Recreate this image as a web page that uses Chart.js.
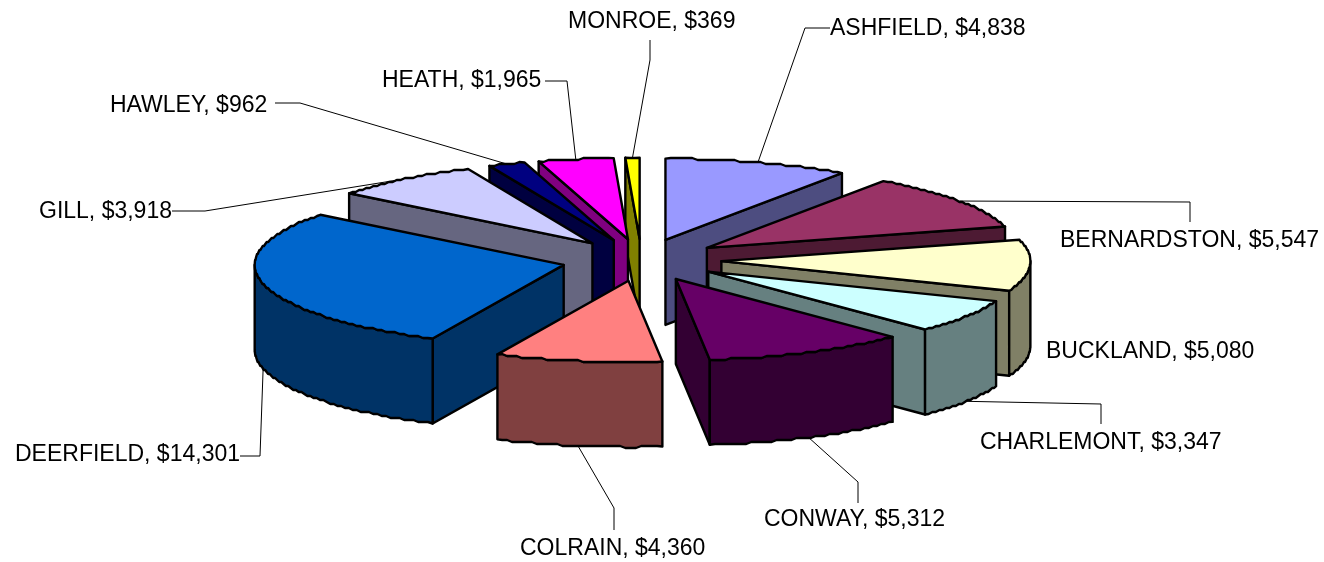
<!DOCTYPE html>
<html>
<head>
<meta charset="utf-8">
<title>Pie</title>
<script src="https://cdn.jsdelivr.net/npm/chart.js@4/dist/chart.umd.min.js"></script>
<style>
  html, body { margin: 0; padding: 0; background: #fff; }
  canvas { display: block; }
</style>
</head>
<body>
<canvas id="towns" width="1324" height="562"></canvas>
<script>
const towns = ["ASHFIELD", "BERNARDSTON", "BUCKLAND", "CHARLEMONT", "CONWAY", "COLRAIN", "DEERFIELD", "GILL", "HAWLEY", "HEATH", "MONROE"];
const amounts = [4838, 5547, 5080, 3347, 5312, 4360, 14301, 3918, 962, 1965, 369];
const topColors = ["#9999FF", "#993366", "#FFFFCC", "#CCFFFF", "#660066", "#FF8080", "#0066CC", "#CCCCFF", "#000080", "#FF00FF", "#FFFF00"];
const sideColors = ["#4D4D80", "#4D1A33", "#808066", "#668080", "#330033", "#804040", "#003366", "#666680", "#000040", "#800080", "#808000"];

// label text position, then the leader from text to elbow (slice end is worked out below)
const labelPos = [[830, 29], [1060, 241], [1046, 352], [980, 443], [764, 520], [520, 549], [15, 455], [39, 212], [110, 106], [382, 81], [568, 22]];
const leaderPts = [
  [[830, 28], [805, 28]],
  [[1190, 222], [1190, 202]],
  null,
  [[1101, 424], [1101, 404]],
  [[858, 503], [858, 482]],
  [[614, 530], [614, 508]],
  [[240, 456], [260, 456]],
  [[172, 211], [205, 211]],
  [[275, 103], [300, 103]],
  [[545, 81], [567, 81]],
  [[650, 40], [650, 60]]
];

const tilt = 0.263;   // vertical squash of the pie
const depth = 85;     // height of the side walls
const rimStep = 2;    // the original's rim is slightly stepped, not a clean curve

function sliceGeom(arc) {
  const p = arc.getProps(["x", "y", "startAngle", "endAngle", "outerRadius"], true);
  const mid = (p.startAngle + p.endAngle) / 2;
  const off = arc.options.offset;
  return {
    cx: p.x + Math.cos(mid) * off,
    cy: p.y + Math.sin(mid) * off * tilt,
    r: p.outerRadius,
    start: p.startAngle,
    end: p.endAngle,
    mid: mid
  };
}

function rimPt(g, a) {
  return [g.cx + Math.cos(a) * g.r, g.cy + Math.sin(a) * g.r * tilt];
}

// lineTo along the rim from angle a0 to a1, inner points snapped to a coarse grid
function traceRim(ctx, g, a0, a1, dy) {
  const n = Math.max(1, Math.ceil(Math.abs(a1 - a0) / (Math.PI / 180)));
  for (let k = 0; k <= n; k++) {
    const p = rimPt(g, a0 + (a1 - a0) * k / n);
    let y = p[1] + dy;
    if (k > 0 && k < n) y = Math.round(y / rimStep) * rimStep;
    ctx.lineTo(p[0], y);
  }
}

function paint(ctx, fill) {
  ctx.fillStyle = fill;
  ctx.fill();
  ctx.stroke();
}

// flat wall running from the apex out to the rim
function drawFace(ctx, g, a, fill) {
  const e = rimPt(g, a);
  ctx.beginPath();
  ctx.moveTo(g.cx, g.cy);
  ctx.lineTo(e[0], e[1]);
  ctx.lineTo(e[0], e[1] + depth);
  ctx.lineTo(g.cx, g.cy + depth);
  ctx.closePath();
  paint(ctx, fill);
}

const pie3d = {
  id: "pie3d",
  beforeDatasetDraw(chart, args) {
    const ctx = chart.ctx;
    const arcs = chart.getDatasetMeta(args.index).data;
    const order = arcs.map((a, i) => i).sort((a, b) => {
      const ga = sliceGeom(arcs[a]), gb = sliceGeom(arcs[b]);
      return ga.cy - gb.cy;
    });

    ctx.save();
    ctx.lineJoin = "round";

    // leaders go under the slices
    ctx.strokeStyle = "#000";
    ctx.lineWidth = 1;
    leaderPts.forEach((pts, i) => {
      if (!pts) return;
      const g = sliceGeom(arcs[i]);
      const end = rimPt(g, g.mid);
      if (Math.sin(g.mid) > 0) end[1] += depth;
      ctx.beginPath();
      ctx.moveTo(pts[0][0], pts[0][1]);
      ctx.lineTo(pts[1][0], pts[1][1]);
      ctx.lineTo(end[0], end[1]);
      ctx.stroke();
    });

    ctx.lineWidth = 2.4;
    ctx.strokeStyle = "#000";
    order.forEach((i) => {
      const g = sliceGeom(arcs[i]);
      const side = sideColors[i];

      if (-Math.cos(g.start) > 1e-6) drawFace(ctx, g, g.start, side);
      if (Math.cos(g.end) > 1e-6) drawFace(ctx, g, g.end, side);

      // outer wall, only the part that faces us
      const a0 = Math.max(g.start, 0), a1 = Math.min(g.end, Math.PI);
      if (a1 > a0) {
        ctx.beginPath();
        traceRim(ctx, g, a0, a1, 0);
        traceRim(ctx, g, a1, a0, depth);
        ctx.closePath();
        paint(ctx, side);
      }

      // top
      ctx.beginPath();
      ctx.moveTo(g.cx, g.cy);
      traceRim(ctx, g, g.start, g.end, 0);
      ctx.closePath();
      paint(ctx, topColors[i]);
    });
    ctx.restore();
    return false;
  },
  afterDraw(chart) {
    const ctx = chart.ctx;
    ctx.save();
    ctx.fillStyle = "#000";
    ctx.font = "23px 'Liberation Sans'";
    ctx.textBaseline = "middle";
    towns.forEach((t, i) => {
      const text = t + ", $" + amounts[i].toLocaleString("en-US");
      ctx.fillText(text, labelPos[i][0], labelPos[i][1]);
    });
    ctx.restore();
  }
};

new Chart(document.getElementById("towns").getContext("2d"), {
  type: "pie",
  data: {
    labels: towns,
    datasets: [{
      data: amounts,
      backgroundColor: topColors,
      borderColor: "#000",
      borderWidth: 2,
      offset: 80
    }]
  },
  options: {
    responsive: false,
    animation: false,
    radius: 309,
    layout: { padding: { right: 41, bottom: 42 } },
    plugins: {
      legend: { display: false },
      tooltip: { enabled: false }
    }
  },
  plugins: [pie3d]
});
</script>
</body>
</html>
